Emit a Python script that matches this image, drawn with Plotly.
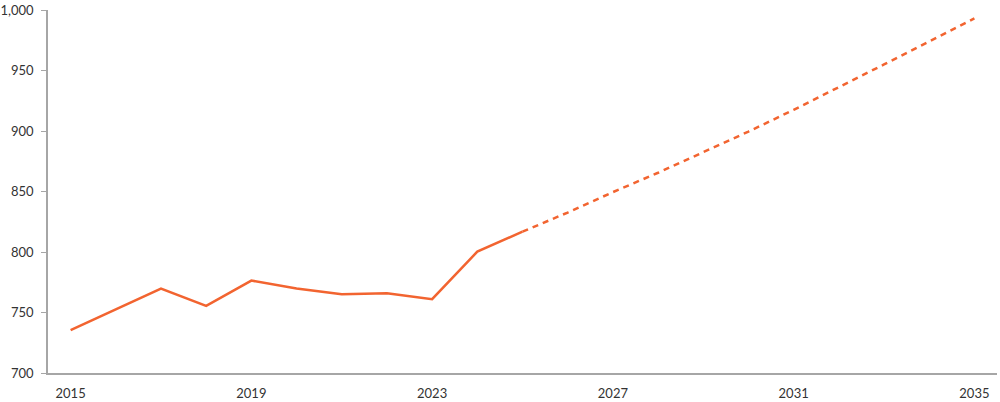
import plotly.graph_objects as go

# actual values
years_actual = [2015, 2016, 2017, 2018, 2019, 2020, 2021, 2022, 2023, 2024, 2025]
values_actual = [735.4, 752.7, 769.8, 755.5, 776.4, 769.8, 765.1, 765.9, 761.0, 800.3, 816.8]

# projection
years_proj = [2025, 2026, 2027, 2028, 2029, 2030, 2031, 2032, 2033, 2034, 2035]
values_proj = [816.8, 832.6, 849.5, 865.5, 882.5, 899.5, 917.5, 936.0, 955.0, 974.0, 993.0]

x_ticks = [2015, 2019, 2023, 2027, 2031, 2035]
y_ticks = [700, 750, 800, 850, 900, 950, 1000]

orange = "#f26430"

fig = go.Figure()

fig.add_trace(go.Scatter(
    x=years_actual, y=values_actual, mode="lines",
    line=dict(color=orange, width=2.5),
    showlegend=False, hoverinfo="skip"
))
fig.add_trace(go.Scatter(
    x=years_proj, y=values_proj, mode="lines",
    line=dict(color=orange, width=2.5, dash="6px,5px"),
    showlegend=False, hoverinfo="skip"
))

fig.update_xaxes(
    range=[2014.5, 2035.5], tickvals=x_ticks, ticktext=[str(v) for v in x_ticks],
    showgrid=False, zeroline=False, showline=True, linecolor="#a6a6a6", linewidth=1.5,
    ticks="", tickfont=dict(size=13, color="#333333"), ticklabelstandoff=8,
    automargin=False
)
fig.update_yaxes(
    range=[700, 1000], tickvals=y_ticks, tickformat=",",
    showgrid=False, zeroline=False, showline=True, linecolor="#a6a6a6", linewidth=1.5,
    ticks="outside", ticklen=5, tickcolor="#a6a6a6", tickwidth=1,
    tickfont=dict(size=13, color="#333333"), ticklabelstandoff=5,
    automargin=False
)

fig.update_layout(
    width=1000, height=402,
    margin=dict(l=48, r=3, t=10, b=29),
    plot_bgcolor="white", paper_bgcolor="white",
    font=dict(family="Lato, sans-serif")
)

# drop the default body margin so the figure sits flush in the window
fig.write_html("out.html", config={"displayModeBar": False},
               post_script="document.body.style.margin='0';")
